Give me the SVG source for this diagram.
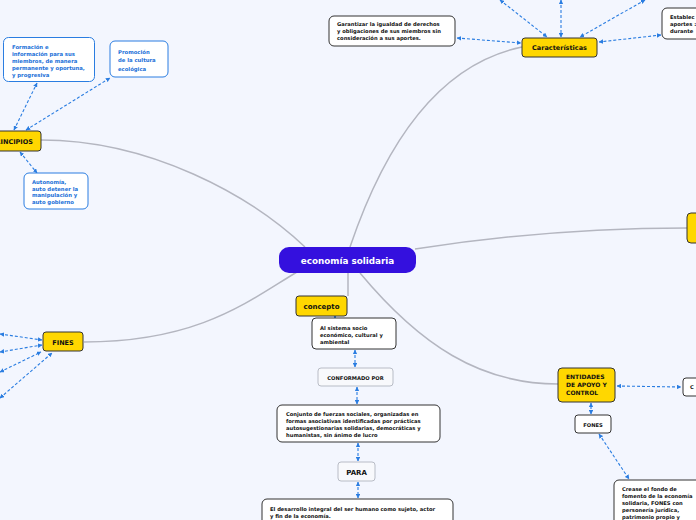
<svg xmlns="http://www.w3.org/2000/svg" width="696" height="520" viewBox="0 0 696 520">
<defs>
<marker id="ah" viewBox="0 0 6 6" refX="5.5" refY="3" markerWidth="4.5" markerHeight="4.5" markerUnits="userSpaceOnUse" orient="auto-start-reverse">
<path d="M0,0 L6,3 L0,6 Z" fill="#2a7de1"/>
</marker>
</defs>
<style>
text{font-family:"DejaVu Sans","Liberation Sans",sans-serif;font-weight:bold}
.main{fill:#ffd700;stroke:#333;stroke-width:1}
.box{fill:#fff;stroke:#333;stroke-width:1}
.bbox{fill:#fff;stroke:#2a7de1;stroke-width:1}
.gbox{fill:#f8f9fc;stroke:#b8bcc6;stroke-width:1}
.t{font-size:5.2px;fill:#111}
.bt{font-size:5.3px;fill:#1a6fd8}
.mt{font-size:6.5px;fill:#111}
.br{fill:none;stroke:#b4b6c0;stroke-width:1.5}
.d{fill:none;stroke:#2a7de1;stroke-width:1.1;stroke-dasharray:3 2;marker-start:url(#ah);marker-end:url(#ah)}
</style>
<rect width="696" height="520" fill="#f3f6fe"/>
<g id="connectors">
<path class="br" d="M350 247 Q410 70 522 47"/>
<path class="br" d="M41 140 C150 140 250 195 305 247"/>
<path class="br" d="M415 249 Q550 228 687 228"/>
<path class="br" d="M84 342 C200 342 250 300 297 272"/>
<path class="br" d="M348 273 L348 296"/>
<path class="br" d="M360 273 C420 345 480 384 558 384"/>
<path class="d" d="M500 0 L547 37"/>
<path class="d" d="M561 0 L561 37"/>
<path class="d" d="M645 0 L580 37"/>
<path class="d" d="M457 38 L521 43"/>
<path class="d" d="M661 35 L599 42"/>
<path class="d" d="M14 130 L37 83"/>
<path class="d" d="M26 130 L110 78"/>
<path class="d" d="M20 152 L37 173"/>
<path class="d" d="M0 334 L42 340"/>
<path class="d" d="M0 352 L42 345"/>
<path class="d" d="M0 372 L41 352"/>
<path class="d" d="M0 398 L52 353"/>
<path class="d" d="M335 316 L335 318"/>
<path class="d" d="M355 350 L355 367"/>
<path class="d" d="M357 387 L357 404"/>
<path class="d" d="M358 443 L358 461"/>
<path class="d" d="M358 482 L358 498"/>
<path class="d" d="M617 386 L681 387"/>
<path class="d" d="M591 414 L591 403"/>
<path class="d" d="M599 434 L629 479"/>
</g>
<g id="central">
<rect x="279" y="247" width="137" height="26" rx="10" fill="#3410de"/>
<text x="347.5" y="263.5" text-anchor="middle" style="font-size:8.8px;fill:#fff">economía solidaria</text>
</g>
<g id="caracteristicas">
<rect class="main" x="522" y="38" width="75" height="19" rx="3"/>
<text class="mt" x="559.5" y="50" text-anchor="middle">Características</text>
</g>
<g id="garantizar">
<rect class="box" x="329" y="16" width="126" height="30" rx="5"/>
<text class="t" x="337" y="26">Garantizar la igualdad de derechos</text>
<text class="t" x="337" y="33">y obligaciones de sus miembros sin</text>
<text class="t" x="337" y="40">consideración a sus aportes.</text>
</g>
<g id="establec">
<rect class="box" x="662" y="8" width="60" height="31" rx="5"/>
<text class="t" x="670" y="19">Establec</text>
<text class="t" x="670" y="26">aportes :</text>
<text class="t" x="670" y="33">durante</text>
</g>
<g id="principios">
<rect class="main" x="-30" y="131" width="71" height="20" rx="3"/>
<text class="mt" x="33" y="143.5" text-anchor="end">PRINCIPIOS</text>
</g>
<g id="formacion">
<rect class="bbox" x="3.5" y="37.5" width="91" height="44" rx="5"/>
<text class="bt" x="12" y="49">Formación e</text>
<text class="bt" x="12" y="56">información para sus</text>
<text class="bt" x="12" y="63">miembros, de manera</text>
<text class="bt" x="12" y="70">permanente y oportuna,</text>
<text class="bt" x="12" y="76.5">y progresiva</text>
</g>
<g id="promocion">
<rect class="bbox" x="110" y="41" width="58" height="36" rx="5"/>
<text class="bt" x="118" y="54">Promoción</text>
<text class="bt" x="118" y="62">de la cultura</text>
<text class="bt" x="118" y="71">ecológica</text>
</g>
<g id="autonomia">
<rect class="bbox" x="24" y="173" width="64" height="36" rx="5"/>
<text class="bt" x="32" y="184">Autonomía,</text>
<text class="bt" x="32" y="190.5">auto detener la</text>
<text class="bt" x="32" y="197">manipulación y</text>
<text class="bt" x="32" y="203.5">auto gobierno</text>
</g>
<g id="derecha">
<rect class="main" x="687" y="213" width="30" height="30" rx="4"/>
</g>
<g id="fines">
<rect class="main" x="43" y="332" width="40" height="19" rx="3"/>
<text class="mt" x="63" y="344.5" text-anchor="middle">FINES</text>
</g>
<g id="concepto">
<rect class="main" x="296" y="296" width="51" height="20" rx="3"/>
<text x="321.5" y="308.5" text-anchor="middle" style="font-size:7px;fill:#111">concepto</text>
</g>
<g id="sistema">
<rect class="box" x="312" y="318" width="84" height="31" rx="4"/>
<text class="t" x="320" y="330">Al sistema socio</text>
<text class="t" x="320" y="337">económico, cultural y</text>
<text class="t" x="320" y="344">ambiental</text>
</g>
<g id="conformado">
<rect class="gbox" x="318" y="368" width="75" height="18" rx="3"/>
<text class="t" x="355.5" y="379.5" text-anchor="middle">CONFORMADO POR</text>
</g>
<g id="conjunto">
<rect class="box" x="277" y="405" width="163" height="37" rx="5"/>
<text class="t" x="286" y="416">Conjunto de fuerzas sociales, organizadas en</text>
<text class="t" x="286" y="423">formas asociativas identificadas por prácticas</text>
<text class="t" x="286" y="430">autosugestionarias solidarias, democráticas y</text>
<text class="t" x="286" y="437">humanistas, sin ánimo de lucro</text>
</g>
<g id="para">
<rect class="gbox" x="338" y="462" width="37" height="19" rx="3"/>
<text x="356.5" y="474.5" text-anchor="middle" style="font-size:7px;fill:#111">PARA</text>
</g>
<g id="desarrollo">
<rect class="box" x="262" y="499" width="191" height="35" rx="5"/>
<text class="t" x="270" y="511">El desarrollo integral del ser humano como sujeto, actor</text>
<text class="t" x="270" y="518">y fin de la economía.</text>
</g>
<g id="entidades">
<rect class="main" x="558" y="368" width="57" height="34" rx="4"/>
<text x="566" y="379" style="font-size:6px;fill:#111">ENTIDADES</text>
<text x="566" y="387" style="font-size:6px;fill:#111">DE APOYO Y</text>
<text x="566" y="395" style="font-size:6px;fill:#111">CONTROL</text>
</g>
<g id="c-node">
<rect class="box" x="683" y="378" width="40" height="18" rx="3"/>
<text class="t" x="690" y="389">C</text>
</g>
<g id="fones">
<rect class="box" x="575" y="415" width="36" height="18" rx="3"/>
<text class="t" x="593" y="427" text-anchor="middle">FONES</text>
</g>
<g id="crease">
<rect class="box" x="614" y="480" width="100" height="50" rx="5"/>
<text class="t" x="622" y="491">Crease el fondo de</text>
<text class="t" x="622" y="498">fomento de la economía</text>
<text class="t" x="622" y="505">solidaria, FONES con</text>
<text class="t" x="622" y="512">personería jurídica,</text>
<text class="t" x="622" y="519">patrimonio propio y</text>
</g>
</svg>
